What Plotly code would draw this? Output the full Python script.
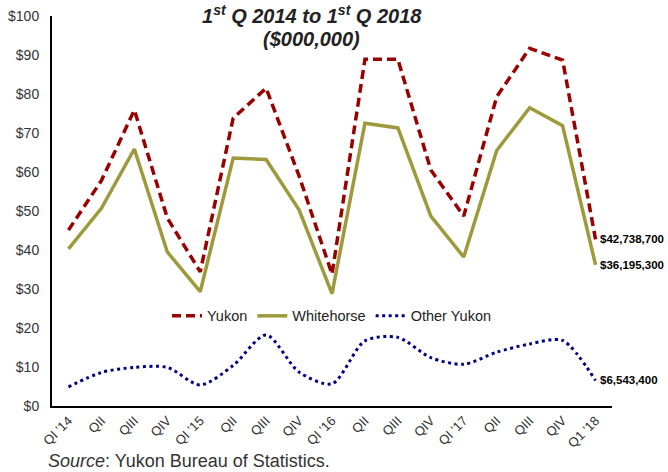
import plotly.graph_objects as go

quarters = ["QI '14", "QII", "QIII", "QIV", "QI '15", "QII", "QIII", "QIV",
            "QI '16", "QII", "QIII", "QIV", "QI '17", "QII", "QIII", "QIV", "Q1 '18"]

yukon = [45.1, 57.8, 75.9, 48.2, 34.4, 73.8, 81.5, 59.0, 33.8, 88.9,
         88.9, 60.5, 48.7, 79.3, 91.7, 88.7, 42.7387]
whitehorse = [40.3, 50.7, 65.9, 39.5, 29.3, 63.6, 63.2, 50.3, 28.8, 72.5,
              71.3, 48.7, 38.2, 65.5, 76.5, 71.9, 36.1953]
other_yukon = [4.9, 8.6, 9.9, 9.9, 5.4, 10.4, 18.2, 8.7, 5.7, 16.7,
               17.6, 12.4, 10.7, 13.8, 15.9, 16.8, 6.5434]

end_labels = ["$42,738,700", "$36,195,300", "$6,543,400"]

x = list(range(len(quarters)))

fig = go.Figure()

fig.add_trace(go.Scatter(
    x=x, y=yukon, mode="lines", name="Yukon",
    line=dict(color="#990000", width=3.5, dash="9px,5px"),
))
fig.add_trace(go.Scatter(
    x=x, y=whitehorse, mode="lines", name="Whitehorse",
    line=dict(color="#9e9a3c", width=3.5),
))
fig.add_trace(go.Scatter(
    x=x, y=other_yukon, mode="lines", name="Other Yukon",
    line=dict(color="#000080", width=3, dash="3px,3.5px", shape="spline", smoothing=0.8),
))

# end-of-line value labels
for series, label in zip([yukon, whitehorse, other_yukon], end_labels):
    fig.add_annotation(
        x=x[-1], y=series[-1], text=label,
        xanchor="left", yanchor="middle", xshift=2, showarrow=False,
        font=dict(family="Arial", size=11.5, color="#000000", weight="bold"),
    )

# title inside the plot, two lines
fig.add_annotation(
    xref="paper", yref="paper", x=0.464, y=1.005, yanchor="middle",
    text="<b><i>1<sup>st</sup> Q 2014 to 1<sup>st</sup> Q 2018</i></b>",
    showarrow=False,
    font=dict(family="Arial", size=20, color="#222222"),
)
fig.add_annotation(
    xref="paper", yref="paper", x=0.464, y=0.94, yanchor="middle",
    text="<b><i>($000,000)</i></b>",
    showarrow=False,
    font=dict(family="Arial", size=20, color="#222222"),
)

fig.add_annotation(
    xref="paper", yref="paper", x=-0.01, y=-0.141, xanchor="left", yanchor="middle",
    text="<i>Source</i>: Yukon Bureau of Statistics.",
    showarrow=False,
    font=dict(family="Arial", size=18, color="#333333"),
)

fig.update_layout(
    width=668, height=472,
    margin=dict(l=52, r=56, t=16, b=66),
    paper_bgcolor="white",
    plot_bgcolor="white",
    font=dict(family="Arial", color="#333333"),
    showlegend=True,
    legend=dict(
        orientation="h",
        x=0.5, xanchor="center",
        y=0.231, yanchor="middle",
        font=dict(size=14.5, color="#222222"),
        bgcolor="rgba(0,0,0,0)",
        itemwidth=30,
    ),
    xaxis=dict(
        tickvals=x, ticktext=quarters,
        range=[-0.5, len(quarters) - 0.5],
        tickangle=-45,
        automargin=False,
        showgrid=False, zeroline=False,
        showline=True, linecolor="black", linewidth=2,
        ticks="",
        tickfont=dict(size=13, color="#333333"),
    ),
    yaxis=dict(
        range=[0, 100], dtick=10,
        tickprefix="$",
        automargin=False,
        showgrid=False, zeroline=False,
        showline=True, linecolor="black", linewidth=2,
        ticks="",
        ticklabelstandoff=8,
        tickfont=dict(size=14, color="#333333"),
    ),
)

fig.write_html(
    "out.html",
    config={"displayModeBar": False},
    post_script="document.body.style.margin='0';document.body.style.overflow='hidden';",
)
